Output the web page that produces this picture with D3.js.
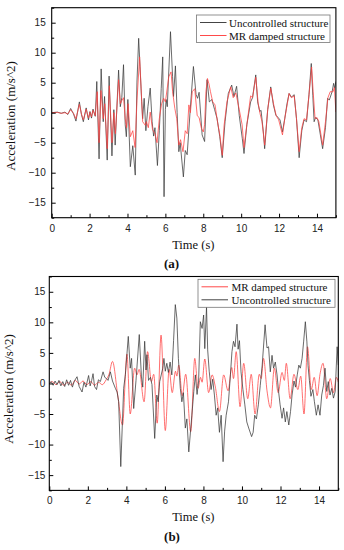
<!DOCTYPE html>
<html>
<head>
<meta charset="utf-8">
<script src="https://cdn.jsdelivr.net/npm/d3@7"></script>
<style>
  html, body { margin: 0; padding: 0; background: #fff; }
  svg { display: block; }
</style>
</head>
<body>
<div id="chart"></div>
<script>
// axis ticks
const timeTicks = [0, 2, 4, 6, 8, 10, 12, 14];
const timeMinor = [1, 3, 5, 7, 9, 11, 13, 15];
const accTicks = [-15, -10, -5, 0, 5, 10, 15];
const accMinor = [-17.5, -12.5, -7.5, -2.5, 2.5, 7.5, 12.5, 17.5];

// panel (a) - [time s, acceleration m/s^2]
const aUncontrolled = [[0,0],[0.3,0.1],[0.5,-0.1],[0.7,0.1],[0.85,-0.3],[1.0,0.7],[1.15,-0.2],[1.28,-1.4],[1.46,1.8],[1.57,-0.3],[1.67,-1.5],[1.82,0.8],[1.94,-1.2],[2.02,0.2],[2.1,-0.9],[2.18,0.6],[2.3,-0.6],[2.38,5.2],[2.5,-7.7],[2.61,7.3],[2.72,-1.5],[2.79,2.7],[2.93,-7.9],[3.03,6.1],[3.18,-7.2],[3.28,0.5],[3.35,-5.4],[3.53,7.1],[3.62,1.0],[3.7,2.5],[3.79,8.0],[3.88,-2.0],[3.94,-4.0],[4.02,2.2],[4.15,-9.0],[4.28,-5.5],[4.41,-10.4],[4.5,5.1],[4.59,12.4],[4.66,7.7],[4.75,1.9],[4.8,-1.0],[4.88,2.4],[4.97,-3.0],[5.08,1.0],[5.2,4.1],[5.3,-1.5],[5.38,-3.9],[5.45,-2.5],[5.58,-8.8],[5.68,-3.0],[5.78,4.0],[5.86,9.3],[5.93,-14.0],[6.0,0.5],[6.04,2.2],[6.1,1.0],[6.27,13.5],[6.38,6.0],[6.43,2.7],[6.53,7.8],[6.62,0.0],[6.71,-6.5],[6.78,-5.0],[6.95,-10.7],[7.05,-6.3],[7.15,-7.0],[7.3,0.0],[7.48,7.7],[7.62,3.0],[7.7,2.4],[7.78,3.4],[7.94,-3.7],[8.07,-4.8],[8.2,5.5],[8.32,1.8],[8.45,2.2],[8.6,0.5],[8.73,-1.0],[8.87,-4.0],[9.0,-7.5],[9.15,-1.5],[9.32,3.2],[9.5,4.6],[9.62,2.7],[9.76,4.4],[9.9,-0.5],[10.06,-4.3],[10.15,-6.8],[10.3,-2.0],[10.5,1.8],[10.6,2.5],[10.77,6.3],[10.87,1.8],[10.98,0.2],[11.05,0.4],[11.17,-3.2],[11.24,-6.0],[11.4,0.5],[11.56,4.3],[11.7,1.3],[11.83,-0.4],[11.95,-0.8],[12.05,-1.2],[12.18,-3.2],[12.3,-1.0],[12.42,1.5],[12.53,3.2],[12.65,2.6],[12.8,3.0],[12.92,-1.0],[13.06,-7.5],[13.2,-3.0],[13.32,-1.2],[13.45,-1.5],[13.58,3.0],[13.7,8.2],[13.78,2.9],[13.85,-1.5],[13.93,-0.8],[14.05,-1.2],[14.18,-3.7],[14.3,-6.0],[14.45,-2.5],[14.56,2.4],[14.65,2.1],[14.8,3.5],[14.88,4.9],[14.93,4.1],[15.0,5.2]];
const aDamped = [[0,0],[0.3,0.05],[0.5,-0.1],[0.7,0.0],[0.85,-0.2],[1.0,0.5],[1.15,-0.1],[1.28,-1.0],[1.46,1.4],[1.57,-0.2],[1.67,-1.2],[1.82,0.6],[1.94,-0.9],[2.02,0.1],[2.1,-0.7],[2.18,0.4],[2.3,-0.5],[2.4,3.5],[2.5,-5.0],[2.6,3.7],[2.72,-1.0],[2.8,1.5],[2.93,-6.0],[3.04,4.5],[3.18,-5.0],[3.28,0.0],[3.36,-3.5],[3.53,5.5],[3.62,1.5],[3.7,2.0],[3.79,2.5],[3.88,-1.0],[3.95,-2.5],[4.03,1.5],[4.15,-4.0],[4.28,-3.0],[4.4,-5.8],[4.5,2.0],[4.64,9.3],[4.72,4.0],[4.8,-1.5],[4.94,-2.1],[5.0,-1.5],[5.1,-2.5],[5.2,0.1],[5.32,-2.8],[5.45,-3.5],[5.56,-5.0],[5.68,-1.0],[5.8,1.5],[5.91,2.4],[6.0,1.8],[6.18,6.0],[6.3,6.8],[6.38,3.5],[6.5,0.7],[6.6,-1.0],[6.71,-5.4],[6.8,-4.5],[6.93,-6.5],[7.05,-3.0],[7.15,-3.5],[7.24,1.3],[7.32,0.0],[7.42,3.5],[7.55,4.0],[7.68,-0.5],[7.78,-0.8],[7.9,-2.6],[8.0,-3.2],[8.07,-2.0],[8.14,3.5],[8.22,5.7],[8.3,4.8],[8.38,3.5],[8.5,1.8],[8.62,1.3],[8.75,-1.5],[8.88,-3.8],[9.0,-7.1],[9.1,-2.1],[9.25,1.8],[9.45,4.3],[9.58,2.5],[9.72,3.3],[9.9,0.5],[10.05,-2.0],[10.15,-5.8],[10.3,-2.0],[10.5,2.8],[10.6,2.5],[10.77,5.9],[10.9,1.5],[11.0,-0.2],[11.1,-1.5],[11.24,-5.4],[11.4,0.5],[11.56,4.1],[11.72,1.3],[11.85,-0.5],[11.98,-1.2],[12.18,-3.7],[12.3,-1.0],[12.53,3.2],[12.65,2.5],[12.8,2.8],[12.92,-1.0],[13.06,-6.5],[13.2,-2.5],[13.32,-1.0],[13.45,-1.2],[13.58,3.0],[13.72,7.6],[13.8,3.5],[13.9,-1.0],[14.0,-0.8],[14.1,-1.5],[14.3,-5.4],[14.45,-1.5],[14.58,2.5],[14.7,3.5],[14.85,3.5],[14.92,4.2],[15.0,0.1]];

// panel (b)
const bDamped = [[0,0],[0.15,0.3],[0.35,-0.2],[0.55,0.3],[0.75,-0.3],[0.95,0.2],[1.15,-0.3],[1.35,0.5],[1.55,-0.1],[1.75,0.4],[1.95,-0.2],[2.15,0.3],[2.35,-0.3],[2.55,0.2],[2.75,-0.2],[2.95,0.6],[3.1,1.5],[3.28,3.6],[3.55,-1.9],[3.8,-6.8],[4.03,4.8],[4.2,-5.0],[4.43,2.5],[4.55,1.4],[4.66,2.3],[4.92,-3.0],[5.1,5.2],[5.3,0.3],[5.42,1.5],[5.6,-6.5],[5.8,7.9],[6.02,-7.7],[6.22,2.3],[6.38,-1.5],[6.55,2.0],[6.62,1.2],[6.72,3.0],[6.9,-2.0],[7.08,1.5],[7.34,-7.9],[7.55,4.1],[7.72,-0.8],[7.85,1.0],[7.93,0.2],[8.07,4.0],[8.27,-1.5],[8.45,1.4],[8.62,-0.6],[8.83,-4.6],[9.05,1.4],[9.28,-1.2],[9.47,2.6],[9.56,0.8],[9.7,5.2],[9.9,-3.8],[10.09,3.3],[10.3,-2.5],[10.48,1.5],[10.68,-5.0],[10.9,1.5],[11.0,0.8],[11.12,4.1],[11.3,-1.2],[11.48,-4.0],[11.68,2.5],[11.88,-1.5],[12.08,1.8],[12.2,0.5],[12.3,3.3],[12.5,-2.5],[12.7,1.5],[12.9,-1.0],[13.05,1.2],[13.22,-5.0],[13.4,6.0],[13.6,-1.0],[13.75,1.0],[13.9,-2.0],[14.05,1.5],[14.21,3.3],[14.4,-2.5],[14.58,0.8],[14.75,-1.5],[14.9,1.0],[15.0,0.2]];
const bUncontrolled = [[0,0],[0.1,0.3],[0.2,-0.3],[0.3,0.4],[0.4,-0.2],[0.5,0.5],[0.6,-0.4],[0.7,0.3],[0.8,-0.5],[0.9,0.6],[1.0,-0.3],[1.1,0.5],[1.2,-0.6],[1.3,0.4],[1.44,1.1],[1.55,-0.5],[1.7,-1.4],[1.8,0.2],[1.9,-0.6],[2.04,1.3],[2.12,-0.4],[2.2,0.5],[2.27,1.6],[2.35,-0.5],[2.45,-1.0],[2.55,0.6],[2.65,0.3],[2.79,1.9],[2.88,1.0],[2.97,0.8],[3.05,0.5],[3.17,1.9],[3.28,0.4],[3.43,-0.8],[3.52,-1.4],[3.6,-3.0],[3.71,-13.6],[3.86,-0.8],[3.95,1.5],[4.1,7.7],[4.2,2.5],[4.27,4.1],[4.38,-4.1],[4.5,0.5],[4.67,8.0],[4.78,1.2],[4.85,-0.6],[4.95,6.9],[5.02,2.2],[5.07,4.7],[5.15,0.5],[5.25,1.0],[5.33,-0.2],[5.47,-9.0],[5.58,-1.9],[5.65,-3.0],[5.73,0.3],[5.89,2.5],[5.95,4.1],[6.02,2.0],[6.1,3.3],[6.18,1.8],[6.27,3.5],[6.36,1.4],[6.45,7.0],[6.54,12.9],[6.62,10.7],[6.7,4.1],[6.8,-0.8],[6.88,-3.0],[6.96,-1.5],[7.06,-7.3],[7.14,-5.8],[7.24,-11.2],[7.33,-7.8],[7.4,-5.2],[7.5,-1.3],[7.58,1.4],[7.67,-1.8],[7.75,0.4],[7.84,10.1],[7.93,9.0],[8.01,11.2],[8.07,5.7],[8.16,12.5],[8.22,5.5],[8.3,2.0],[8.4,-1.0],[8.48,0.7],[8.57,-1.9],[8.66,-5.2],[8.74,-4.0],[8.83,-8.0],[8.92,-5.2],[9.02,-12.8],[9.1,-7.8],[9.18,-5.2],[9.3,-3.0],[9.4,1.4],[9.48,5.2],[9.56,6.9],[9.64,6.0],[9.74,9.7],[9.8,5.6],[9.87,7.0],[9.95,1.9],[10.05,-1.0],[10.15,-3.5],[10.25,-6.3],[10.35,-7.3],[10.5,-8.7],[10.58,-8.0],[10.66,-5.2],[10.75,-5.8],[10.85,-3.5],[10.95,-0.3],[11.05,3.0],[11.2,9.6],[11.3,5.8],[11.38,6.0],[11.47,1.9],[11.56,4.6],[11.64,2.5],[11.73,3.5],[11.82,1.4],[11.9,-1.3],[11.98,-3.5],[12.08,-5.7],[12.16,-4.0],[12.25,-6.3],[12.33,-4.6],[12.43,-6.8],[12.52,-4.6],[12.6,-1.9],[12.7,0.4],[12.78,-0.6],[12.87,1.4],[12.95,3.0],[13.03,2.5],[13.12,4.1],[13.2,6.8],[13.29,10.1],[13.37,6.8],[13.43,2.9],[13.5,0.5],[13.58,-2.1],[13.68,-1.0],[13.76,-3.0],[13.86,-5.2],[13.95,-3.5],[14.05,-5.2],[14.14,-1.9],[14.23,-0.3],[14.31,2.5],[14.4,-1.3],[14.48,0.3],[14.57,-1.9],[14.66,-0.8],[14.75,-2.4],[14.84,-1.3],[14.94,6.0],[15.0,3.0]];

const unconLabel = "Uncontrolled structure";
const dampedLabel = "MR damped structure";
const BLACK = "#3a3a3a", RED = "#ff4040";

const svg = d3.select("#chart").append("svg")
    .attr("width", 344)
    .attr("height", 550);

function drawPanel(p) {
    const x = d3.scaleLinear().domain([0, 15]).range([p.left, p.right]);
    const y = d3.scaleLinear().domain([-17.5, 17.5]).range([p.bottom, p.top]);
    const g = svg.append("g");

    const clipId = "clip-" + p.id;
    g.append("clipPath").attr("id", clipId)
        .append("rect")
        .attr("x", p.left).attr("y", p.top)
        .attr("width", p.right - p.left).attr("height", p.bottom - p.top);

    // series, in legend order (first drawn underneath)
    const line = d3.line().x(d => x(d[0])).y(d => y(d[1]));
    p.series.forEach(s => {
        g.append("path")
            .datum(s.data)
            .attr("clip-path", `url(#${clipId})`)
            .attr("fill", "none")
            .attr("stroke", s.color)
            .attr("stroke-width", s.width)
            .attr("stroke-linejoin", "round")
            .attr("d", line.curve(s.smooth ? d3.curveMonotoneX : d3.curveLinear));
    });

    // ticks pointing inside
    g.append("g").attr("transform", `translate(0,${p.bottom})`)
        .call(d3.axisBottom(x).tickValues(timeTicks).tickSize(-4).tickPadding(7).tickFormat(d3.format("d")));
    g.append("g").attr("transform", `translate(0,${p.bottom})`)
        .call(d3.axisBottom(x).tickValues(timeMinor).tickSize(-2.5).tickFormat(""));
    g.append("g").attr("transform", `translate(${p.left},0)`)
        .call(d3.axisLeft(y).tickValues(accTicks).tickSize(-4).tickPadding(p.yPad).tickFormat(d3.format("d")));
    g.append("g").attr("transform", `translate(${p.left},0)`)
        .call(d3.axisLeft(y).tickValues(accMinor).tickSize(-2.5).tickFormat(""));

    g.selectAll(".domain").remove();
    g.selectAll(".tick line").attr("stroke", "#000").attr("stroke-width", 1);
    g.selectAll(".tick text")
        .attr("fill", "#222")
        .style("font-family", "'Liberation Sans', Arial, sans-serif")
        .style("font-size", "10px");

    g.append("rect")
        .attr("x", p.left).attr("y", p.top)
        .attr("width", p.right - p.left).attr("height", p.bottom - p.top)
        .attr("fill", "none").attr("stroke", "#000").attr("stroke-width", 1.1);

    const serif = "'Liberation Serif', 'Times New Roman', serif";
    g.append("text")
        .attr("x", (p.left + p.right) / 2 - 0.5).attr("y", p.bottom + 31)
        .attr("text-anchor", "middle")
        .style("font-family", serif).style("font-size", "12.5px")
        .attr("fill", "#111")
        .text("Time (s)");
    g.append("text")
        .attr("transform", `translate(${p.yTitleX},${p.yTitleY}) rotate(-90)`)
        .attr("text-anchor", "middle")
        .style("font-family", serif).style("font-size", "13px")
        .attr("fill", "#111")
        .text("Acceleration (m/s^2)");
    g.append("text")
        .attr("x", p.tagX).attr("y", p.tagY)
        .attr("text-anchor", "middle")
        .style("font-family", serif).style("font-size", "13px").style("font-weight", "bold")
        .attr("fill", "#111")
        .text(p.tag);

    // legend
    const L = p.legend;
    g.append("rect")
        .attr("x", L.x).attr("y", L.y).attr("width", L.w).attr("height", L.h)
        .attr("fill", "#fff").attr("stroke", "#777").attr("stroke-width", 0.8);
    p.series.forEach((s, i) => {
        const yy = L.y + 7.5 + i * 13;
        g.append("line")
            .attr("x1", L.x + 3.5).attr("x2", L.x + 30)
            .attr("y1", yy).attr("y2", yy)
            .attr("stroke", s.color).attr("stroke-width", s.width + 0.2);
        g.append("text")
            .attr("x", L.x + L.textDx).attr("y", yy + 4)
            .style("font-family", serif).style("font-size", "11px")
            .attr("fill", "#111")
            .text(s.label);
    });
}

drawPanel({
    id: "a", left: 51.7, right: 335.9, top: 7.7, bottom: 217.7, yPad: 6,
    yTitleX: 15, yTitleY: 116, tag: "(a)", tagX: 171.5, tagY: 268,
    legend: { x: 196.5, y: 15, w: 133.5, h: 27.5, textDx: 32.5 },
    series: [
        { data: aUncontrolled, color: BLACK, width: 0.75, label: unconLabel },
        { data: aDamped, color: RED, width: 0.75, label: dampedLabel }
    ]
});

drawPanel({
    id: "b", left: 49.3, right: 338.3, top: 276.5, bottom: 490.4, yPad: 4,
    yTitleX: 13, yTitleY: 389, tag: "(b)", tagX: 172, tagY: 541,
    legend: { x: 198, y: 279.3, w: 137, h: 28, textDx: 33.5 },
    series: [
        { data: bDamped, color: RED, width: 0.75, label: dampedLabel, smooth: true },
        { data: bUncontrolled, color: BLACK, width: 0.75, label: unconLabel }
    ]
});
</script>
</body>
</html>
